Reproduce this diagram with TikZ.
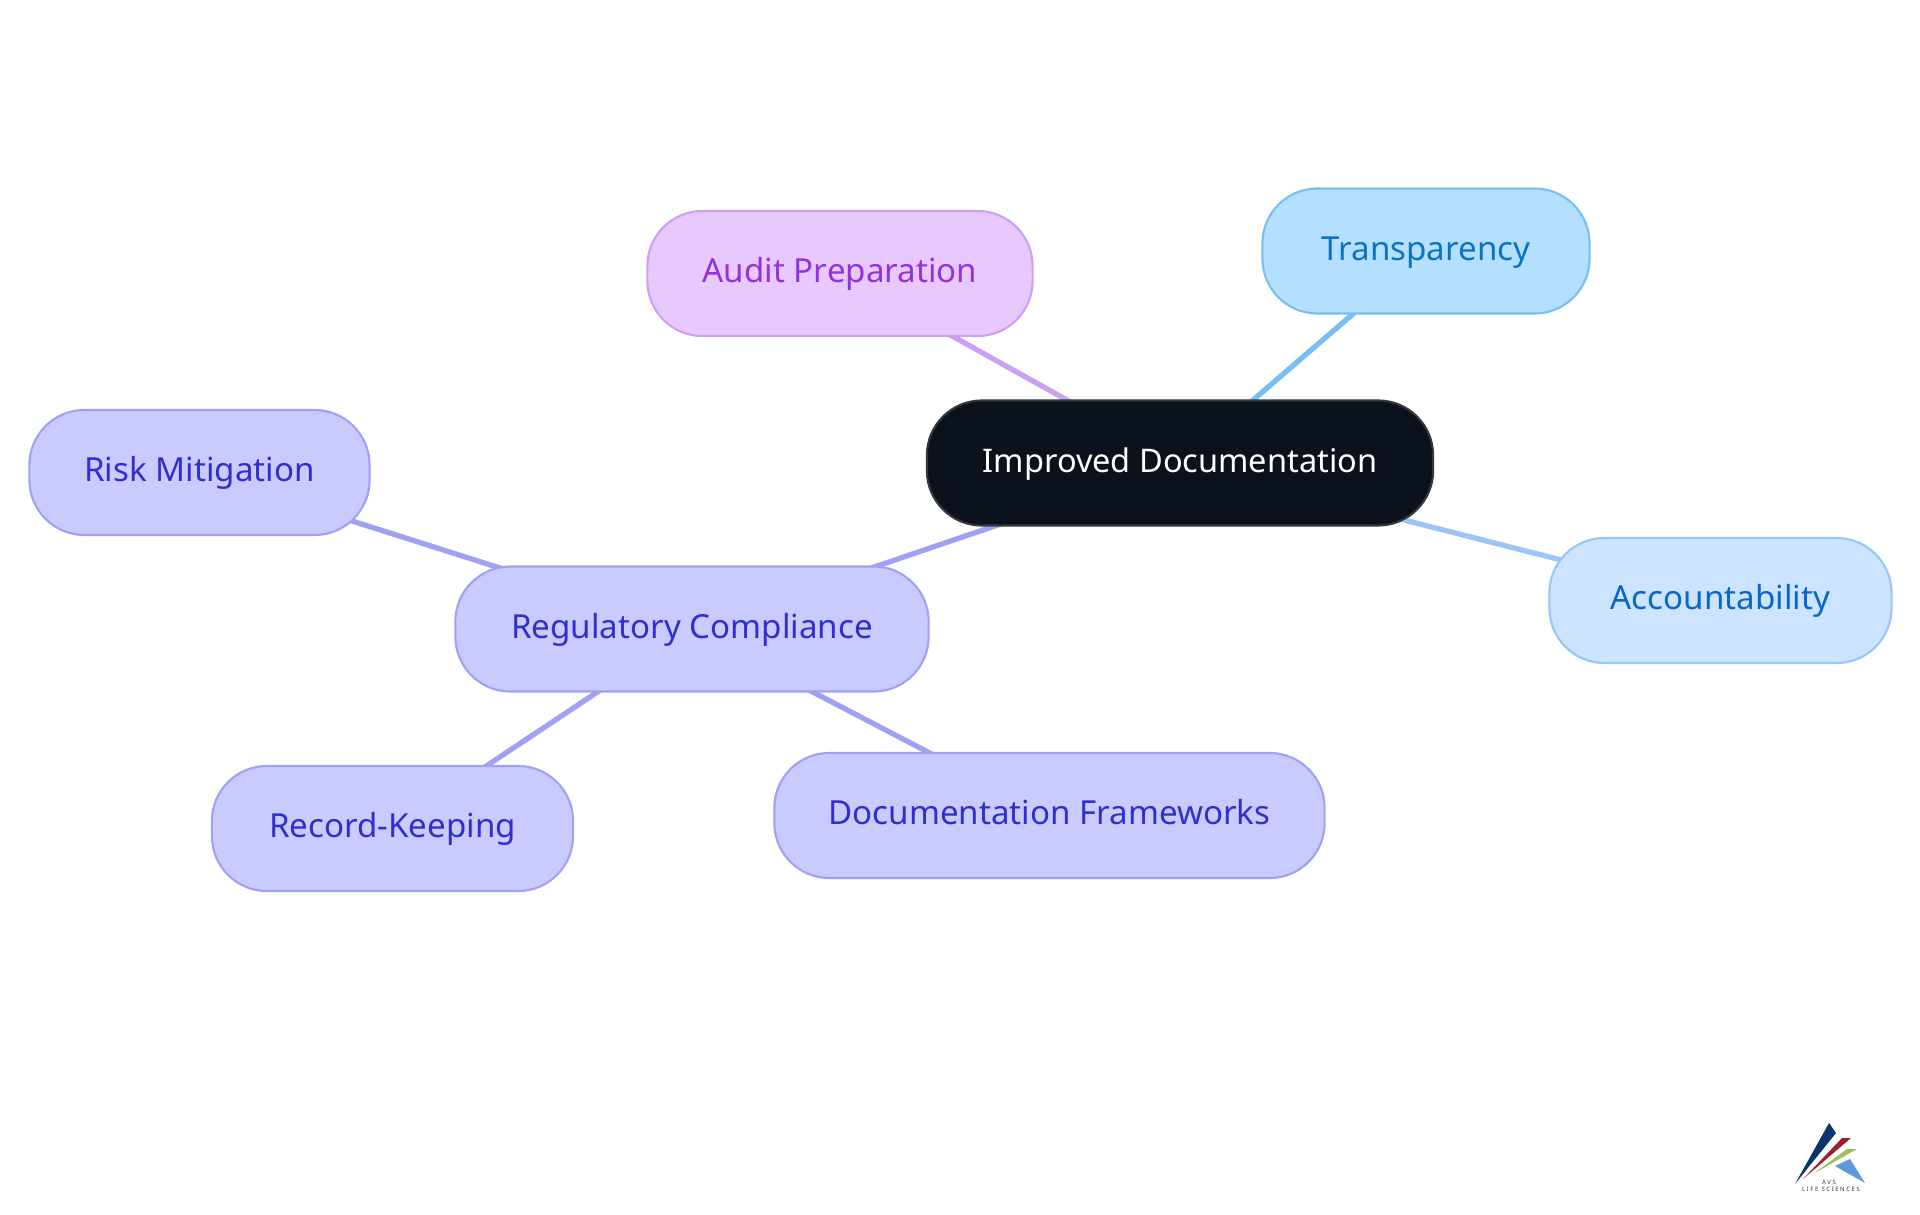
\documentclass[tikz,border=0pt]{standalone}
\usepackage{fontspec}
\setmainfont{Noto Sans}
\usetikzlibrary{backgrounds}
\definecolor{rootfill}{HTML}{0B121B}
\definecolor{rootline}{HTML}{34383E}
\definecolor{auditfill}{HTML}{E7C9FF}
\definecolor{auditline}{HTML}{CB9FF2}
\definecolor{audittext}{HTML}{9332DC}
\definecolor{transfill}{HTML}{B4DFFF}
\definecolor{transline}{HTML}{78BEF2}
\definecolor{transtext}{HTML}{0A74C4}
\definecolor{acctfill}{HTML}{CCE4FF}
\definecolor{acctline}{HTML}{9AC5F4}
\definecolor{accttext}{HTML}{0A66CC}
\definecolor{regfill}{HTML}{C9CBFF}
\definecolor{regline}{HTML}{9FA1F2}
\definecolor{regtext}{HTML}{2F2FD0}
\tikzset{
  topic/.style={rounded corners=0.55cm,minimum height=1.25cm,line width=0.6pt,inner sep=0pt,text height=0.284cm,text depth=0.1cm,font=\fontsize{9.42}{11}\selectfont},
  rootnode/.style={topic,fill=rootfill,draw=rootline,text=white,font=\fontsize{9.25}{11}\selectfont},
  auditnode/.style={topic,fill=auditfill,draw=auditline,text=audittext},
  transnode/.style={topic,fill=transfill,draw=transline,text=transtext},
  acctnode/.style={topic,fill=acctfill,draw=acctline,text=accttext},
  regnode/.style={topic,fill=regfill,draw=regline,text=regtext},
  edge/.style={line width=1.5pt}
}
\begin{document}
\begin{tikzpicture}[x=0.01cm,y=-0.01cm]
\useasboundingbox (0,0) rectangle (1920,1215);
\node[rootnode,minimum width=5.06cm] (root) at (1180,463) {Improved Documentation};
\node[auditnode,minimum width=3.85cm] (audit) at (840,273.5) {Audit Preparation};
\node[transnode,minimum width=3.27cm] (transparency) at (1426,251) {Transparency};
\node[acctnode,minimum width=3.42cm] (accountability) at (1720.5,600.5) {Accountability};
\node[regnode,minimum width=4.73cm] (regulatory) at (692,629) {Regulatory Compliance};
\node[regnode,minimum width=3.40cm] (risk) at (199.5,472.5) {Risk Mitigation};
\node[regnode,minimum width=3.61cm] (record) at (392.5,828.5) {Record-Keeping};
\node[regnode,minimum width=5.50cm] (frameworks) at (1049.5,815.5) {Documentation Frameworks};
\begin{scope}[on background layer]
\draw[edge,auditline] (root.center)--(audit.center);
\draw[edge,transline] (root.center)--(transparency.center);
\draw[edge,acctline] (root.center)--(accountability.center);
\draw[edge,regline] (root.center)--(regulatory.center);
\draw[edge,regline] (regulatory.center)--(risk.center);
\draw[edge,regline] (regulatory.center)--(record.center);
\draw[edge,regline] (regulatory.center)--(frameworks.center);
\end{scope}
\fill[fill={rgb,255:red,10;green,52;blue,108}] (1829,1123)--(1836,1133)--(1795,1184)--cycle;
\fill[fill={rgb,255:red,160;green,28;blue,48}] (1842,1138)--(1851,1138)--(1803,1179)--cycle;
\fill[fill={rgb,255:red,165;green,188;blue,92}] (1847,1149)--(1857,1149)--(1813,1174)--cycle;
\fill[fill={rgb,255:red,92;green,152;blue,218}] (1850,1159)--(1835,1166)--(1865,1183)--cycle;
\node[font=\fontsize{1.7}{2}\selectfont\bfseries,text=black!80] (avs) at (1829,1182) {A V S};
\node[font=\fontsize{1.7}{2}\selectfont\bfseries,text=black!80] (life) at (1831,1189) {L I F E\ \ S C I E N C E S};
\end{tikzpicture}
\end{document}
